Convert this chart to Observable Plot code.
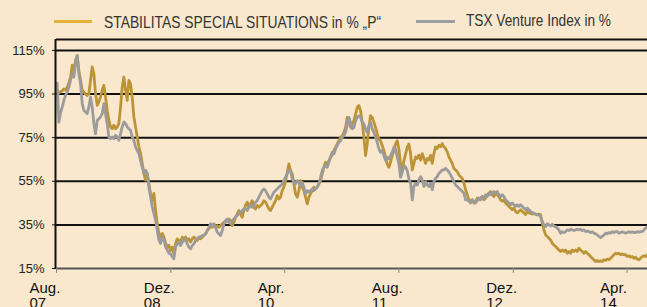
<!DOCTYPE html>
<html><head><meta charset="utf-8">
<script src="https://cdn.jsdelivr.net/npm/d3@7"></script>
<script src="https://cdn.jsdelivr.net/npm/@observablehq/plot@0.6"></script>
<style>
html,body{margin:0;padding:0;background:#FAE8CE;}
#wrap{position:relative;width:647px;height:307px;overflow:hidden;background:#FAE8CE;}
.sw{position:absolute;height:3px;}
.lt{position:absolute;font-family:"Liberation Sans Narrow","Arial Narrow","Liberation Sans",Arial,sans-serif;font-size:16.5px;color:#333;white-space:nowrap;transform-origin:0 0;line-height:1;}
#chart{position:absolute;left:0;top:33px;}
</style></head>
<body><div id="wrap">
<div class="sw" style="left:54px;top:20px;width:38px;background:#E6AF3A"></div>
<span class="lt" id="t1" style="left:104px;top:14px">STABILITAS SPECIAL SITUATIONS in % „P“</span>
<div class="sw" style="left:416px;top:20px;width:39px;background:#9C9FA2"></div>
<span class="lt" id="t2" style="left:466px;top:11.5px">TSX Venture Index in %</span>
<div id="chart"></div>
</div>
<script>
// weekly series, first observation 2007-08-04
const seriesStart = Date.UTC(2007, 7, 4);
const stepDays = 7.113;

const stabilitas = [
97,95.5,96,96.5,97.3,96.8,98,100,102.8,108.2,
105.8,110.4,112.7,105.8,101.3,96.7,95.9,95,94.3,95.1,
101.3,107.4,104.3,95.2,89.8,91.4,93.7,96.7,99,93.7,
87.5,83,79.9,79.1,80.7,79.1,79.9,81.4,89,98.2,
102.8,96.7,92.1,101.3,99.7,93.6,84.5,79.9,75.4,70.8,
67.7,63.2,58.6,55.5,58.6,54,49.4,46.3,49.4,41.8,
35.6,31.1,29.5,31.1,29.5,26.5,24.9,25.7,
23.2,24.8,21.7,26.3,28.6,27.8,27.1,29.4,28.6,29.4,
27.8,28.6,27.1,28.6,29.4,28.6,27.8,29.4,28.6,29.4,
30.1,30.9,32.4,33.2,34.7,33.9,34.7,33.9,34.7,33.9,
34.7,35.5,36.2,36.2,37,37.7,37,34.7,36.2,38.5,
40,41.6,40,38.5,41.6,43.9,45.4,43.1,44.6,46.1,
43.1,42.3,43.9,43.1,43.9,44.6,46.1,45.4,43.9,42.3,
41.6,43.1,44.6,46.1,48.4,46.9,47.7,50.7,52.3,55.3,
59.1,62.9,
59.9,58.4,53.8,49.2,47.7,50.7,55.3,52.3,50.7,47.7,
44.6,47.7,49.2,50.7,52.3,51.5,52.3,53.8,55.3,58.4,
61.4,63.7,62.2,64.5,66,67.5,69.1,70.6,72.1,73.6,
75.2,75.9,77.4,79.7,84.3,82.8,79.7,81.3,82.8,85.8,
88.9,89.7,87.4,82,75.2,66.8,72.1,79.7,85.1,84.3,
82,79.7,76.7,74.4,73.6,71.3,69.1,66,62.9,61.4,
63.7,66.8,69.1,72.1,73.6,69.8,62.9,59.9,64.5,67.5,
70.6,72.1,
67.7,60.2,63.2,66.2,65.5,67,64.7,67.7,65.5,63.2,
65.5,64.7,67,63.2,67.7,70.8,70,71.5,70.8,72.3,
70.8,70,68.5,66.2,64.7,63.2,60.9,60.2,59.4,57.9,
57.1,56.4,54.1,51.1,48.8,46.5,45.8,46.5,45,45.8,
47.3,46.5,47.3,48,46.5,47.3,48.8,49.5,50.3,48.8,
48,49.5,48.8,48,46.5,45.8,46.5,45,44.2,43.5,
42.7,42,42.7,41.2,40.5,41.2,42,41.2,40.5,39.7,
41.2,40.5,
40.3,40,40.3,39.8,39.6,40,39.6,35.8,32.7,30.4,
29.7,28.9,28.1,26.6,25.8,25.1,24.3,23.5,22.8,23.5,
22.8,23.5,22,22.8,22,23.5,22.8,23.5,22.8,24.3,
23.5,22.8,22,22.8,22,21.3,20.5,19.7,19,18.2,
18.7,18.2,18.5,18.2,19,18.7,19.3,19,19.7,20.5,
21.3,22,21.7,22,21.3,21.7,21.3,21.3,20.5,20.8,
20.2,20.5,19.7,20.2,19.3,19,19.7,20.5,20.8,20.5,
21.3
];

const tsxVenture = [
100,82,86.5,89,92.1,94.4,95.9,98.2,101.3,104.3,
102.8,108.9,112.7,104.3,99.7,90.6,87.5,86.8,86,89,
93.6,89,81.4,76.8,82.9,83.7,84.5,86,90.6,86,
81.4,75.3,74.5,75.3,74.5,76.1,75.3,73.8,76.8,79.9,
82.2,81.4,79.9,79.1,78.4,75.3,73.8,70.7,69.2,67.7,
64.6,61.6,58.6,60.1,58.6,52.4,47.9,43.3,40.3,37.2,
32.7,28.1,26.5,29.6,28.1,25,23.5,22,
21.7,20.5,19.4,24.8,26.3,27.1,25.5,27.1,27.8,28.6,
26.3,24.8,24,25.5,26.3,27.8,28.6,29.4,29.4,30.1,
30.1,30.9,32.4,33.9,35.5,34.7,35.5,33.9,31.6,30.9,
30.1,32.4,35.5,37,37.7,36.2,35.5,37,37.7,38.5,
39.3,40,40.8,41.6,42.3,42.3,41.6,43.1,43.9,43.1,
43.9,45.4,46.1,47.7,49.2,50.7,51.5,50.7,49.2,47.7,
46.9,48.4,50,50.7,51.5,52.3,53,53.8,55.3,56.8,
58.4,59.9,
59.9,56.1,54.5,53.8,55.3,54.5,53,54.5,52.3,49.2,
50.7,50,50.7,51.5,50.7,51.5,52.3,53.8,56.8,59.9,
61.4,62.2,61.4,63.7,66,68.3,67.5,69.8,71.3,72.9,
73.6,75.2,75.9,77.4,81.3,84.3,82,79,79.7,82.8,
84.3,85.1,84.3,82,81.3,79,77.4,80.5,82,79,
77.4,75.2,72.9,69.8,68.3,69.1,66.8,64.5,66,65.2,
66.8,68.3,70.6,69.8,66,62.9,56.8,59.1,62.2,61.4,
59.9,56.1,
54.1,46.5,52.6,54.1,53.3,55.6,57.1,55.6,52.6,54.8,
53.3,52.6,54.1,51.1,54.8,56.4,57.1,58.6,59.4,60.2,
60.2,60.9,60.2,59.4,57.9,56.4,54.8,53.3,52.6,51.8,
51.1,50.3,49.5,46.5,46.5,45.8,45,46.5,45.8,45,
46.5,47.3,46.5,48,47.3,48.8,48,49.5,48.8,49.5,
50.3,49.5,50.3,48.8,48,48.8,48,46.5,45.8,45,
44.2,45,44.2,43.5,44.2,43.5,44.2,43.5,42.7,42,
42.7,42,
41.1,40.7,40.3,40,39.6,39.6,38.8,36.5,35,34.2,
35.5,35,34.5,35.3,34.5,34.2,33.5,32.7,31.2,31.9,
31.5,31.9,32.7,32.4,33,32.7,32.4,32.7,33,32.7,
33,32.4,32.7,31.9,32.2,31.9,31.5,31.9,31.2,30.9,
30.4,29.7,29.2,29.7,30.4,31.2,30.9,31.5,31.2,31.9,
31.5,31.9,31.9,31.2,31.5,31.9,31.5,31.2,31.5,31.9,
31.5,31.8,31.5,31.5,31.9,31.6,31.9,31.9,32.7,33.5,
34.2
];

const yTickValues = [15, 35, 55, 75, 95, 115];
const gridValues = [35, 55, 75, 95, 115, 120];
const xTickDates = ["2007-08-01","2008-12-01","2010-04-01","2011-08-01","2012-12-01","2014-04-01"];
const xTickLabels = ["Aug.\n07","Dez.\n08","Apr.\n10","Aug.\n11","Dez.\n12","Apr.\n14"];

const data = stabilitas.map((v, i) => ({
  date: new Date(seriesStart + i * stepDays * 864e5),
  stab: v,
  tsx: tsxVenture[i]
}));

const xTicks = xTickDates.map(s => new Date(s + "T00:00:00Z"));
const labelByTime = new Map(xTicks.map((d, i) => [+d, xTickLabels[i]]));
const x0 = new Date(Date.UTC(2007, 7, 1));
const x1 = new Date(Date.UTC(2014, 5, 27));

const chart = Plot.plot({
  width: 647, height: 274,
  marginLeft: 56, marginRight: 0, marginTop: 6, marginBottom: 39,
  style: {background: "transparent", fontFamily: "'Liberation Sans', Arial, sans-serif", color: "#111", overflow: "visible"},
  x: {type: "utc", domain: [x0, x1], label: null},
  y: {domain: [15, 120], label: null},
  marks: [
    Plot.ruleY(gridValues, {stroke: "#111", strokeWidth: 2}),
    Plot.line(data, {x: "date", y: "stab", stroke: "#BC9435", strokeWidth: 2.8}),
    Plot.line(data, {x: "date", y: "tsx", stroke: "#9B9B9B", strokeWidth: 2.8}),
    Plot.ruleY([15], {stroke: "#555", strokeWidth: 2}),
    Plot.ruleX([x0], {stroke: "#111", strokeWidth: 2, dx: -1}),
    Plot.axisY({ticks: yTickValues, tickFormat: d => d + "%", tickSize: 4, tickPadding: 8, fontSize: 13, stroke: "#111", fill: "#222", label: null}),
    Plot.axisX({ticks: xTicks, tickFormat: () => "", tickSize: 5, stroke: "#888", label: null}),
    Plot.axisX({ticks: xTicks, tickFormat: d => labelByTime.get(+d), tickSize: 0, tickPadding: 14, fontSize: 15, textAnchor: "start", dx: -27, fill: "#111", label: null})
  ]
});
document.getElementById("chart").appendChild(chart);

function fit(id, target) {
  const el = document.getElementById(id);
  el.style.transform = "none";
  const w = el.getBoundingClientRect().width;
  if (w > 0) el.style.transform = "scaleX(" + (target / w) + ")";
}
fit("t1", 277); fit("t2", 145);
if (document.fonts && document.fonts.ready) document.fonts.ready.then(() => { fit("t1", 277); fit("t2", 145); });
</script>
</body></html>
